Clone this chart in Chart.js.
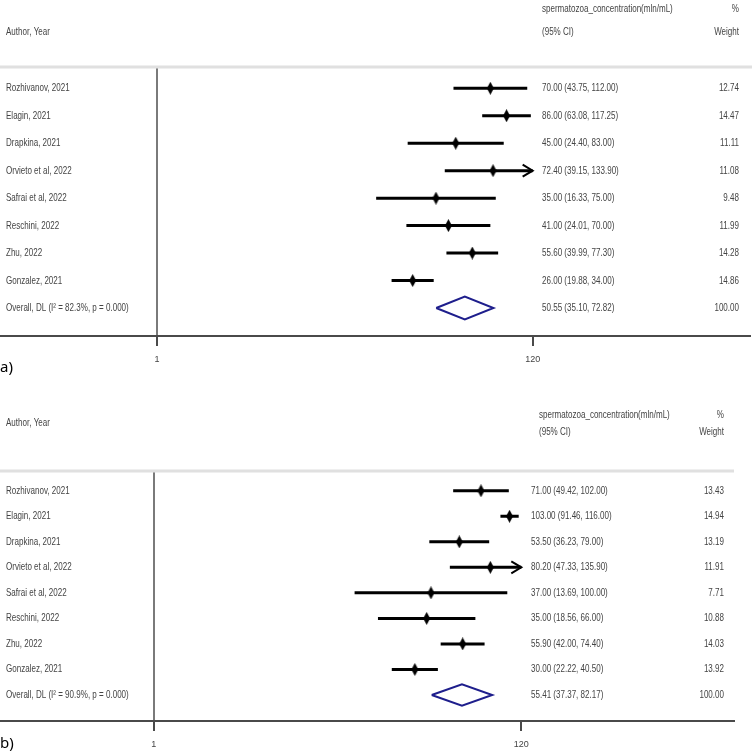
<!DOCTYPE html>
<html>
<head>
<title>Forest plots - spermatozoa concentration</title>
<script src="https://cdn.jsdelivr.net/npm/chart.js"></script>
<style>
  body { margin: 0; background: #fff; }
  canvas { display: block; }
</style>
</head>
<body>
<canvas id="chartA" width="752" height="378"></canvas>
<canvas id="chartB" width="752" height="378"></canvas>
<script>
// study labels (same order in both panels)
const studies = ['Rozhivanov, 2021', 'Elagin, 2021', 'Drapkina, 2021', 'Orvieto et al, 2022',
                 'Safrai et al, 2022', 'Reschini, 2022', 'Zhu, 2022', 'Gonzalez, 2021'];

// panel a
const estA = [70.00, 86.00, 45.00, 72.40, 35.00, 41.00, 55.60, 26.00];
const lowA = [43.75, 63.08, 24.40, 39.15, 16.33, 24.01, 39.99, 19.88];
const highA = [112.00, 117.25, 83.00, 133.90, 75.00, 70.00, 77.30, 34.00];
const weightA = [12.74, 14.47, 11.11, 11.08, 9.48, 11.99, 14.28, 14.86];
const overallA = [50.55, 35.10, 72.82];
const i2A = '82.3%';

// panel b
const estB = [71.00, 103.00, 53.50, 80.20, 37.00, 35.00, 55.90, 30.00];
const lowB = [49.42, 91.46, 36.23, 47.33, 13.69, 18.56, 42.00, 22.22];
const highB = [102.00, 116.00, 79.00, 135.90, 100.00, 66.00, 74.40, 40.50];
const weightB = [13.43, 14.94, 13.19, 11.91, 7.71, 10.88, 14.03, 13.92];
const overallB = [55.41, 37.37, 82.17];
const i2B = '90.9%';

const xTicks = [1, 120];
const clipMax = 120;

const FONT = "'Liberation Sans', Arial, sans-serif";
const TXT = '#444';

function diamondImg(w, h) {
  const c = document.createElement('canvas');
  c.width = w; c.height = h;
  const g = c.getContext('2d');
  g.fillStyle = '#000';
  g.beginPath();
  g.moveTo(w / 2, 0); g.lineTo(w, h / 2); g.lineTo(w / 2, h); g.lineTo(0, h / 2);
  g.closePath();
  g.fill();
  return c;
}
const marker = diamondImg(7, 13);

const fmt = v => v.toFixed(2);

// the original text is squeezed horizontally, so draw it narrowed
function txt(ctx, s, x, y, align) {
  ctx.save();
  ctx.translate(x, y);
  ctx.scale(0.73, 1);
  ctx.textAlign = align || 'left';
  ctx.fillText(s, 0, 0);
  ctx.restore();
}

const forestText = {
  id: 'forestText',
  beforeDatasetsDraw(chart, args, o) {
    const ctx = chart.ctx, ca = chart.chartArea;
    ctx.save();
    ctx.strokeStyle = '#e0e0e0';
    ctx.lineWidth = 3;
    ctx.beginPath();
    ctx.moveTo(0, ca.top);
    ctx.lineTo(o.sepRight, ca.top);
    ctx.stroke();
    ctx.restore();
  },
  afterDraw(chart, args, o) {
    const ctx = chart.ctx, xs = chart.scales.x, ys = chart.scales.y;
    const d = o.data;
    ctx.save();
    ctx.fillStyle = TXT;
    ctx.font = '11px ' + FONT;
    ctx.textBaseline = 'middle';

    // header
    txt(ctx, 'Author, Year', o.labelX, o.authorY);
    txt(ctx, 'spermatozoa_concentration(mln/mL)', o.hdrX, o.hdrY1);
    txt(ctx, '(95% CI)', o.hdrX, o.hdrY2);
    txt(ctx, '%', o.wRight, o.hdrY1, 'right');
    txt(ctx, 'Weight', o.wRight, o.hdrY2, 'right');

    // rows
    studies.forEach((name, i) => {
      const y = ys.getPixelForValue(i + 1);
      txt(ctx, name, o.labelX, y);
      txt(ctx, fmt(d.est[i]) + ' (' + fmt(d.low[i]) + ', ' + fmt(d.high[i]) + ')', o.estX, y);
      txt(ctx, fmt(d.weight[i]), o.wRight, y, 'right');
    });
    const yo = ys.getPixelForValue(studies.length + 1);
    txt(ctx, 'Overall, DL (I\u00B2 = ' + d.i2 + ', p = 0.000)', o.labelX, yo);
    txt(ctx, fmt(d.overall[0]) + ' (' + fmt(d.overall[1]) + ', ' + fmt(d.overall[2]) + ')', o.estX, yo);
    txt(ctx, '100.00', o.wRight, yo, 'right');

    // arrows for intervals running past the plotted range
    ctx.strokeStyle = '#000';
    ctx.lineWidth = 2;
    d.high.forEach((h, i) => {
      if (h <= clipMax) return;
      const px = xs.getPixelForValue(clipMax);
      const py = ys.getPixelForValue(i + 1);
      ctx.beginPath();
      ctx.moveTo(px - 10, py - 6);
      ctx.lineTo(px, py);
      ctx.lineTo(px - 10, py + 6);
      ctx.stroke();
    });

    // panel tag
    ctx.fillStyle = '#000';
    ctx.textAlign = 'left';
    ctx.font = '15px "Noto Sans", sans-serif';
    ctx.fillText(o.tag, 0, o.tagY);
    ctx.restore();
  }
};

function makeForest(id, d, o) {
  const ci = [];
  d.est.forEach((e, i) => {
    ci.push({ x: d.low[i], y: i + 1 }, { x: Math.min(d.high[i], clipMax), y: i + 1 }, { x: null, y: null });
  });
  const r = studies.length + 1;
  const pooled = [
    { x: d.overall[1], y: r }, { x: d.overall[0], y: r - 0.42 },
    { x: d.overall[2], y: r }, { x: d.overall[0], y: r + 0.42 },
    { x: d.overall[1], y: r }
  ];
  return new Chart(document.getElementById(id), {
    type: 'scatter',
    data: {
      datasets: [
        { type: 'line', data: ci, borderColor: '#000', borderWidth: 3, pointRadius: 0, spanGaps: false, tension: 0 },
        { data: d.est.map((e, i) => ({ x: e, y: i + 1 })), pointStyle: marker, pointRadius: 6 },
        { type: 'line', data: pooled, borderColor: '#1e1e8c', borderWidth: 2, pointRadius: 0, tension: 0, fill: false }
      ]
    },
    options: {
      responsive: false,
      animation: false,
      layout: { autoPadding: false, padding: { top: o.top, left: 0, right: o.right, bottom: 0 } },
      plugins: {
        legend: { display: false },
        tooltip: { enabled: false },
        forestText: Object.assign({ data: d }, o)
      },
      scales: {
        x: {
          type: 'logarithmic',
          bounds: 'data',
          min: 0.1352,
          max: 1915,
          afterFit: s => { s.height = o.axisH; },
          afterBuildTicks: s => { s.ticks = xTicks.map(v => ({ value: v })); },
          border: { display: true, color: '#4a4a4a', width: 2 },
          grid: {
            drawOnChartArea: true,
            drawTicks: true,
            tickLength: 10,
            lineWidth: 2,
            tickColor: '#4a4a4a',
            color: c => (c.tick && c.tick.value === 1) ? '#7a7a7a' : 'rgba(0,0,0,0)'
          },
          ticks: {
            autoSkip: false,
            maxRotation: 0,
            padding: 8,
            color: TXT,
            font: { family: FONT, size: 9 },
            callback: v => String(v)
          }
        },
        y: { type: 'linear', reverse: true, min: 0.225, max: 10.02, display: false }
      }
    },
    plugins: [forestText]
  });
}

makeForest('chartA',
  { est: estA, low: lowA, high: highA, weight: weightA, overall: overallA, i2: i2A },
  { top: 67, right: 2, axisH: 42, sepRight: 752, labelX: 6, estX: 542, wRight: 739,
    hdrX: 542, hdrY1: 9, hdrY2: 32, authorY: 32, tag: 'a)', tagY: 368 });

makeForest('chartB',
  { est: estB, low: lowB, high: highB, weight: weightB, overall: overallB, i2: i2B },
  { top: 93, right: 18, axisH: 35, sepRight: 734, labelX: 6, estX: 531, wRight: 724,
    hdrX: 539, hdrY1: 37, hdrY2: 54, authorY: 45, tag: 'b)', tagY: 366 });
</script>
</body>
</html>
